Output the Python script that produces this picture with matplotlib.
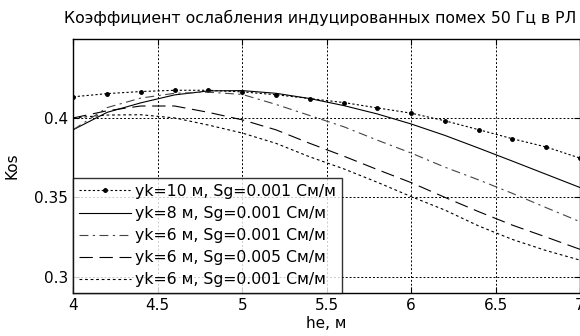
import numpy as np
import matplotlib
matplotlib.use("Agg")
import matplotlib.pyplot as plt

plt.rcParams['font.family'] = ['DejaVu Sans']

he = [4.0, 4.2, 4.4, 4.6, 4.8, 5.0, 5.2, 5.4, 5.6, 5.8, 6.0, 6.2, 6.4, 6.6, 6.8, 7.0]

kos_yk10 = [0.4133, 0.4153, 0.4166, 0.4174, 0.4174, 0.4164, 0.4146, 0.4122, 0.4097, 0.4063,
            0.4030, 0.3982, 0.3926, 0.3869, 0.3817, 0.3747]
kos_yk8 = [0.3926, 0.4035, 0.4095, 0.4145, 0.4170, 0.4172, 0.4155, 0.4122, 0.4078, 0.4025,
           0.3962, 0.3890, 0.3810, 0.3728, 0.3645, 0.3562]
kos_yk6 = [0.3926, 0.4065, 0.4125, 0.4155, 0.4162, 0.4148, 0.4085, 0.4015, 0.3945, 0.3860,
           0.3779, 0.3690, 0.3610, 0.3525, 0.3435, 0.3347]
kos_yk6_s5 = [0.4000, 0.4045, 0.4075, 0.4075, 0.4035, 0.3988, 0.3925, 0.3840, 0.3760, 0.3675,
              0.3593, 0.3500, 0.3410, 0.3325, 0.3250, 0.3173]
kos_yk6_b = [0.4000, 0.4018, 0.4020, 0.4000, 0.3955, 0.3905, 0.3840, 0.3755, 0.3680, 0.3595,
             0.3505, 0.3420, 0.3320, 0.3235, 0.3165, 0.3105]

labels = ["yk=10 м, Sg=0.001 См/м",
          "yk=8 м, Sg=0.001 См/м",
          "yk=6 м, Sg=0.001 См/м",
          "yk=6 м, Sg=0.005 См/м",
          "yk=6 м, Sg=0.001 См/м"]

fig = plt.figure(figsize=(5.8, 3.36), dpi=100)
ax = fig.add_axes([0.1264, 0.1289, 0.8736, 0.7542])

ax.plot(he, kos_yk10, color="k", lw=0.8, ls=(0, (2, 2)), marker=".", markersize=5, label=labels[0])
ax.plot(he, kos_yk8, color="k", lw=0.8, ls="-", label=labels[1])
ax.plot(he, kos_yk6, color="#444444", lw=0.8, ls=(0, (8, 4, 2, 4)), label=labels[2])
ax.plot(he, kos_yk6_s5, color="k", lw=0.8, ls=(0, (12, 6)), label=labels[3])
ax.plot(he, kos_yk6_b, color="k", lw=0.8, ls=(0, (2.5, 2.5)), label=labels[4])

ax.set_xlim(4, 7)
ax.set_ylim(0.29, 0.4495)
ax.set_xticks([4, 4.5, 5, 5.5, 6, 6.5, 7])
ax.set_xticklabels(["4", "4.5", "5", "5.5", "6", "6.5", "7"])
ax.set_yticks([0.3, 0.35, 0.4])
ax.set_yticklabels(["0.3", "0.35", "0.4"])
ax.grid(True, color="k", ls=(0, (2, 2)), lw=0.7)
ax.tick_params(direction="in", length=4, labelsize=11, top=True, right=True, pad=4)
for s in ax.spines.values():
    s.set_linewidth(1.0)

# title sits a little left of the axes centre, as in the original
fig.text(320 / 580, 1 - 18 / 336, "Коэффициент ослабления индуцированных помех 50 Гц в РЛ",
         fontsize=11.3, ha="center", va="center")
ax.set_xlabel("he, м", fontsize=11, labelpad=2)
ax.set_ylabel("Kos", fontsize=11, labelpad=10)

leg = ax.legend(loc="lower left", fontsize=11.3, frameon=True, fancybox=False,
                edgecolor="k", borderaxespad=0, handlelength=3.3, handletextpad=0.3,
                labelspacing=0.45, borderpad=0.35)
leg.get_frame().set_linewidth(1.0)

fig.savefig("out.png", dpi=100)
